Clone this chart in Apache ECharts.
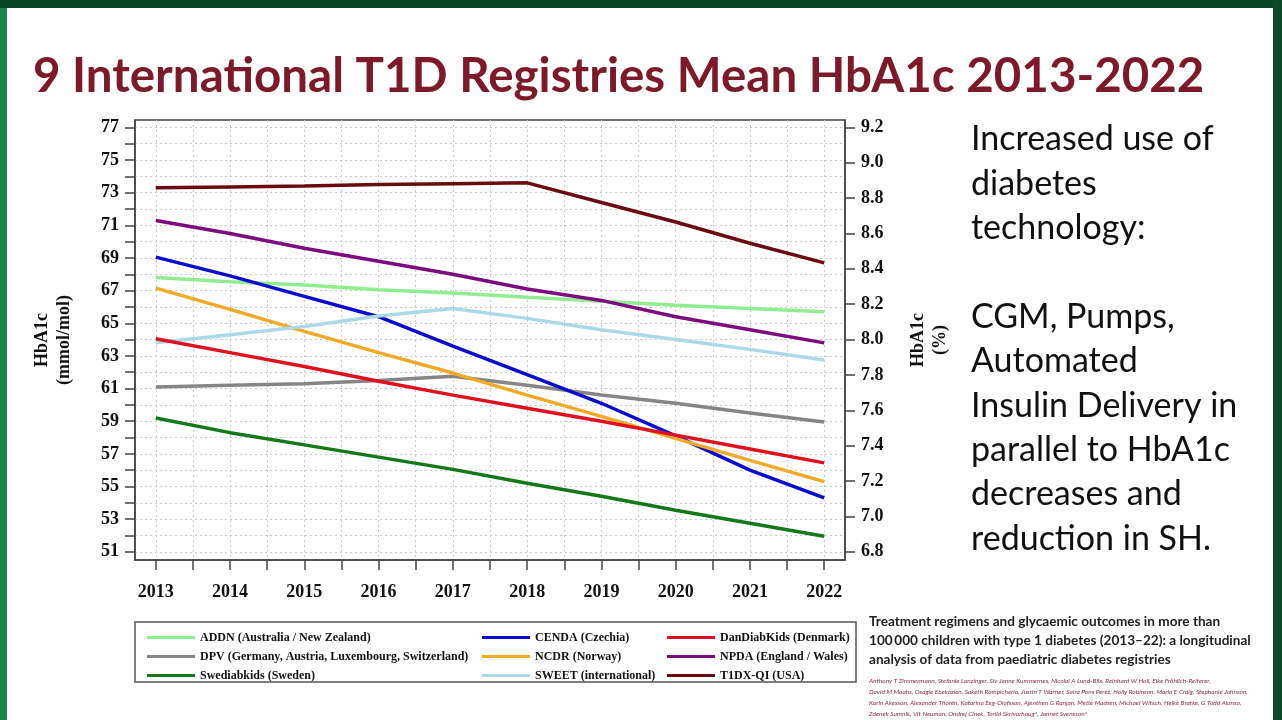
<!DOCTYPE html>
<html>
<head>
<meta charset="utf-8">
<title>HbA1c registries</title>
<script src="https://cdn.jsdelivr.net/npm/echarts@6/dist/echarts.min.js"></script>
<style>
  html, body { margin: 0; padding: 0; background: #fff; }
  #main { width: 1282px; height: 720px; }
</style>
</head>
<body>
<div id="main"></div>
<script>
// years on the x axis
const years = [2013, 2014, 2015, 2016, 2017, 2018, 2019, 2020, 2021, 2022];
const halfYears = [2013, 2013.5, 2014, 2014.5, 2015, 2015.5, 2016, 2016.5, 2017, 2017.5,
  2018, 2018.5, 2019, 2019.5, 2020, 2020.5, 2021, 2021.5, 2022];

// mean HbA1c (mmol/mol)
const addn = [67.8, 67.55, 67.35, 67.05, 66.85, 66.6, 66.35, 66.1, 65.9, 65.7];
const cenda = [69.05, 67.9, 66.65, 65.4, 63.6, 61.85, 60.1, 58.1, 56.0, 54.3];
const danDiabKids = [64.05, 63.2, 62.35, 61.45, 60.6, 59.8, 59.0, 58.15, 57.3, 56.45];
const dpv = [61.1, 61.2, 61.3, 61.5, 61.75, 61.2, 60.6, 60.1, 59.5, 58.95];
const ncdr = [67.15, 65.85, 64.5, 63.2, 61.95, 60.6, 59.3, 57.95, 56.6, 55.3];
const npda = [71.3, 70.5, 69.6, 68.8, 68.0, 67.1, 66.4, 65.4, 64.6, 63.8];
const swediabkids = [59.2, 58.3, 57.55, 56.8, 56.05, 55.2, 54.4, 53.55, 52.75, 51.95];
const sweet = [63.8, 64.3, 64.8, 65.45, 65.9, 65.3, 64.6, 64.0, 63.4, 62.75];
const t1dx = [73.3, 73.35, 73.4, 73.5, 73.55, 73.6, 72.4, 71.2, 69.9, 68.7];

// tick labels
const mmolLabels = [51, 53, 55, 57, 59, 61, 63, 65, 67, 69, 71, 73, 75, 77];
const mmolTicks = [51, 52, 53, 54, 55, 56, 57, 58, 59, 60, 61, 62, 63, 64, 65, 66, 67, 68,
  69, 70, 71, 72, 73, 74, 75, 76, 77];
const pctLabels = [6.8, 7.0, 7.2, 7.4, 7.6, 7.8, 8.0, 8.2, 8.4, 8.6, 8.8, 9.0, 9.2];

// series names and colours
const seriesList = [
  { name: 'ADDN (Australia / New Zealand)', data: addn, color: '#90ee90' },
  { name: 'DPV (Germany, Austria, Luxembourg, Switzerland)', data: dpv, color: '#858585' },
  { name: 'Swediabkids (Sweden)', data: swediabkids, color: '#13781a' },
  { name: 'CENDA (Czechia)', data: cenda, color: '#0b0bd0' },
  { name: 'NCDR (Norway)', data: ncdr, color: '#f2a928' },
  { name: 'SWEET (international)', data: sweet, color: '#add8e6' },
  { name: 'DanDiabKids (Denmark)', data: danDiabKids, color: '#e0101e' },
  { name: 'NPDA (England / Wales)', data: npda, color: '#7e0a80' },
  { name: 'T1DX-QI (USA)', data: t1dx, color: '#6a0a12' }
];

const rightText = [
  'Increased use of', 'diabetes', 'technology:', '',
  'CGM, Pumps,', 'Automated', 'Insulin Delivery in', 'parallel to HbA1c',
  'decreases and', 'reduction in SH.'
];
const paperTitle = [
  'Treatment regimens and glycaemic outcomes in more than',
  '100\u2009000 children with type 1 diabetes (2013\u201322): a longitudinal',
  'analysis of data from paediatric diabetes registries'
];
const paperAuthors = [
  'Anthony T Zimmermann, Stefanie Lanzinger, Siv Janne Kummernes, Nicolai A Lund-Blix, Reinhard W Holl, Elke Fr\u00f6hlich-Reiterer,',
  'David M Maahs, Osagie Ebekozien, Saketh Rompicherla, Justin T Warner, Saira Pons Perez, Holly Robinson, Maria E Craig, Stephanie Johnson,',
  'Karin Akesson, Alexander Thor\u00e9n, Katarina Eeg-Olofsson, Ajenthen G Ranjan, Mette Madsen, Michael Witsch, Heike Bratke, G Todd Alonso,',
  'Zdenek Sumnik, Vit Neuman, Ondrej Cinek, Torild Skrivarhaug*, Jannet Svensson*'
];

const serif = '"Liberation Serif", "DejaVu Serif", serif';
const axisText = { fontFamily: serif, fontWeight: 'bold', fontSize: 18, color: '#111' };

const chart = echarts.init(document.getElementById('main'), null, { renderer: 'canvas' });

// 图例：三列
function legendColumn(names, left) {
  return {
    orient: 'vertical',
    left: left,
    top: 625,
    data: names,
    icon: 'rect',
    itemWidth: 48,
    itemHeight: 3,
    itemGap: 4,
    selectedMode: false,
    textStyle: { fontFamily: serif, fontWeight: 'bold', fontSize: 12, color: '#111', lineHeight: 15 }
  };
}

const option = {
  animation: false,
  backgroundColor: '#fefefe',
  title: {
    text: '9 International T1D Registries Mean HbA1c 2013-2022',
    left: 28,
    top: 48,
    textStyle: { fontFamily: 'Lato', fontWeight: 'bold', fontSize: 47.5, color: '#7c1a2a' }
  },
  legend: [
    legendColumn(seriesList.slice(0, 3).map(s => s.name), 142),
    legendColumn(seriesList.slice(3, 6).map(s => s.name), 477),
    legendColumn(seriesList.slice(6, 9).map(s => s.name), 662)
  ],
  grid: {
    left: 135,
    top: 120,
    width: 710,
    height: 440,
    show: true,
    backgroundColor: '#ffffff',
    borderColor: '#444',
    borderWidth: 1.5
  },
  xAxis: {
    type: 'value',
    min: 2012.72,
    max: 2022.28,
    axisLine: { lineStyle: { color: '#444', width: 1.5 } },
    axisTick: { customValues: halfYears, length: 10, lineStyle: { color: '#444', width: 1.5 } },
    axisLabel: Object.assign({ customValues: years, margin: 23, formatter: v => String(v) }, axisText),
    splitLine: { show: true, lineStyle: { color: '#cbcbcb', type: [2, 3], width: 1 } }
  },
  yAxis: [
    {
      type: 'value',
      position: 'left',
      min: 50.5,
      max: 77.45,
      name: 'HbA1c\n(mmol/mol)',
      nameLocation: 'middle',
      nameRotate: 90,
      nameGap: 60,
      nameTextStyle: { fontFamily: serif, fontWeight: 'bold', fontSize: 18, color: '#111', lineHeight: 22 },
      axisLine: { show: true, lineStyle: { color: '#444', width: 1.5 } },
      axisTick: { show: true, customValues: mmolTicks, length: 10, lineStyle: { color: '#444', width: 1.5 } },
      axisLabel: Object.assign({ customValues: mmolLabels, margin: 16 }, axisText),
      splitLine: { show: true, lineStyle: { color: '#cbcbcb', type: [2, 3], width: 1 } }
    },
    {
      type: 'value',
      position: 'right',
      min: 6.7538,
      max: 9.2415,
      name: 'HbA1c\n(%)',
      nameLocation: 'middle',
      nameRotate: 90,
      nameGap: 62,
      nameTextStyle: { fontFamily: serif, fontWeight: 'bold', fontSize: 18, color: '#111', lineHeight: 22 },
      axisLine: { show: true, lineStyle: { color: '#444', width: 1.5 } },
      axisTick: { show: true, customValues: pctLabels, length: 10, lineStyle: { color: '#444', width: 1.5 } },
      axisLabel: Object.assign({ customValues: pctLabels, margin: 16, formatter: v => v.toFixed(1) }, axisText),
      splitLine: { show: false }
    }
  ],
  series: seriesList.map(s => ({
    name: s.name,
    type: 'line',
    yAxisIndex: 0,
    data: years.map((y, i) => [y, s.data[i]]),
    showSymbol: false,
    color: s.color,
    lineStyle: { width: 3.5, color: s.color },
    emphasis: { disabled: true },
    silent: true
  })),
  graphic: [
    // 绿色边框
    { type: 'rect', shape: { x: 0, y: 0, width: 7, height: 720 }, style: { fill: '#1b854c' } },
    { type: 'rect', shape: { x: 0, y: 0, width: 1282, height: 8 }, style: { fill: '#0b4627' } },
    { type: 'rect', shape: { x: 1273, y: 0, width: 9, height: 720 }, style: { fill: '#0c4a2a' } },
    // 图例外框
    { type: 'rect', shape: { x: 135, y: 622, width: 721, height: 60 },
      style: { fill: 'none', stroke: '#555', lineWidth: 1.5 } },
    // 右侧文字
    { type: 'text', left: 971, top: 117,
      style: { text: rightText.join('\n'), fontFamily: 'Lato', fontSize: 34, lineHeight: 44.4, fill: '#111' } },
    // 文献
    { type: 'text', left: 869, top: 612,
      style: { text: paperTitle.join('\n'), fontFamily: 'Lato', fontWeight: 'bold', fontSize: 13.6, lineHeight: 19, fill: '#232323' } },
    { type: 'text', left: 869, top: 675,
      style: { text: paperAuthors.join('\n'), fontFamily: 'Lato', fontStyle: 'italic', fontSize: 6.5, lineHeight: 11.2, fill: '#8e2a4e' } }
  ]
};

chart.setOption(option);
</script>
</body>
</html>
